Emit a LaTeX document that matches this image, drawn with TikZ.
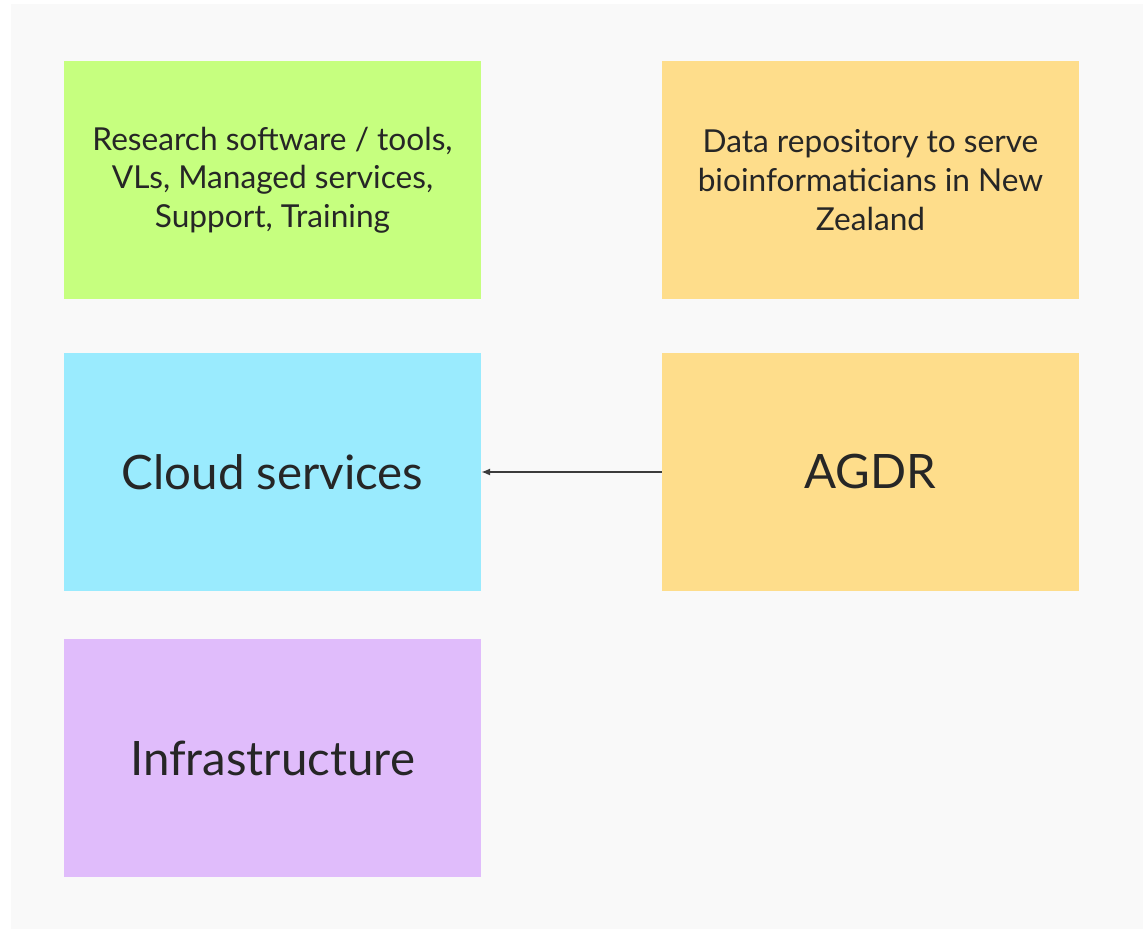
\documentclass[tikz,border=0pt]{standalone}
\usepackage{fontspec}
\setmainfont{Lato}
\usetikzlibrary{arrows.meta,positioning}
\definecolor{PageGray}{RGB}{249,249,249}
\definecolor{ToolGreen}{RGB}{198,255,127}
\definecolor{RepoYellow}{RGB}{254,221,139}
\definecolor{CloudBlue}{RGB}{154,235,254}
\definecolor{InfraPurple}{RGB}{224,188,251}
\definecolor{LinkGray}{RGB}{60,60,60}

\begin{document}
\begin{tikzpicture}[x=0.02cm,y=-0.02cm,>=Latex,
    card/.style={minimum width=8.34cm,minimum height=4.76cm,inner sep=0pt,
      align=center,text=black!85},
    small/.style={font=\fontsize{18}{22}\selectfont},
    big/.style={font=\fontsize{27}{32}\selectfont}]
      \useasboundingbox (0,0) rectangle (1143,929);
      \fill[PageGray] (11,4) rectangle (1143,929);
      \node[card,small,fill=ToolGreen] (tools) at (272.5,180)
        {Research software / tools,\\VLs, Managed services,\\Support, Training};
      \node[card,small,fill=RepoYellow] (repo) at (870.5,180)
        {Data repository to serve\\bioinformaticians in New\\Zealand};
      \node[card,big,fill=CloudBlue] (cloud) at (272.5,472) {Cloud services};
      \node[card,big,fill=RepoYellow] (agdr) at (870.5,472) {AGDR};
      \node[card,big,fill=InfraPurple] (infra) at (272.5,758) {Infrastructure};
      \draw[->,LinkGray,thick,>={Latex[length=5pt,width=4pt]}] (agdr) -- (cloud);
    \end{tikzpicture}
\end{document}
